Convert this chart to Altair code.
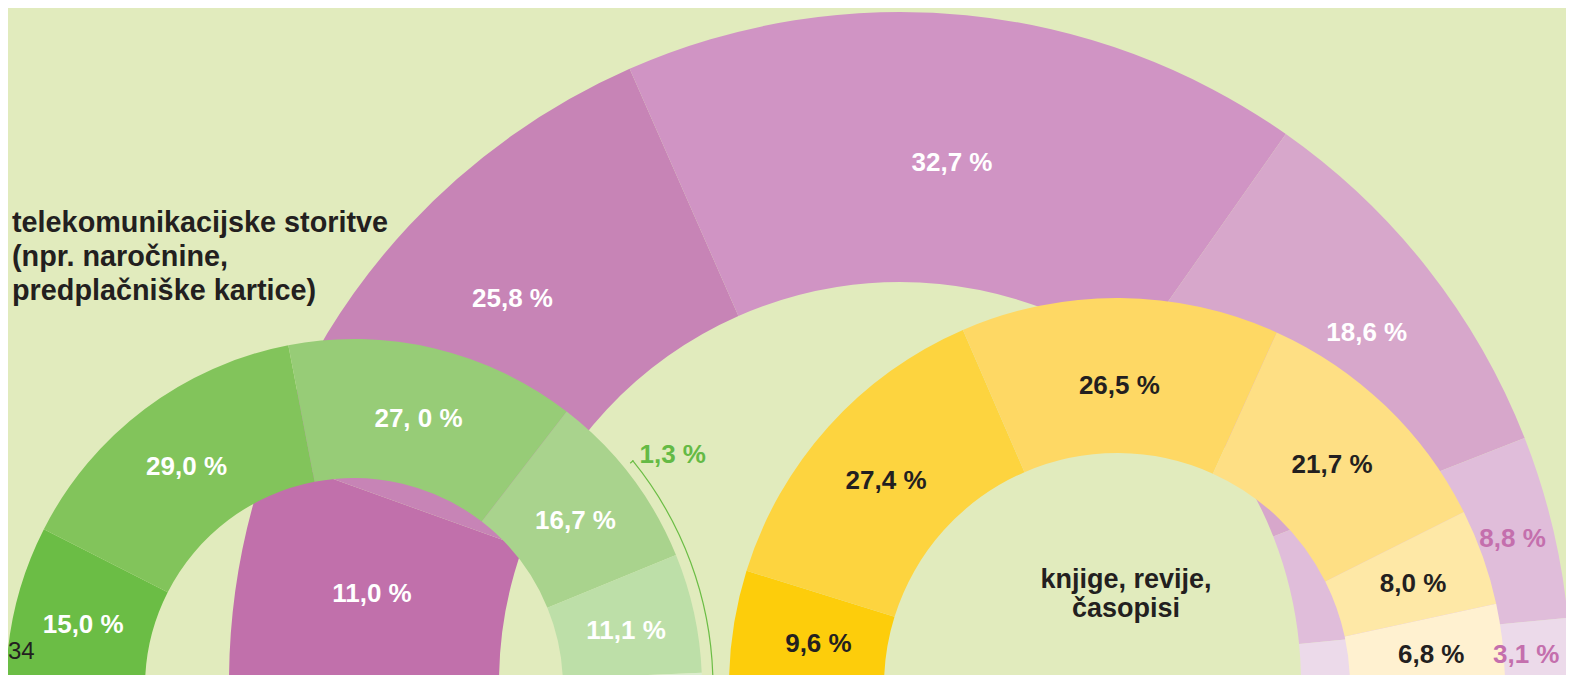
import math
import altair as alt
import pandas as pd

# ---------------- data ----------------
purple_labels = ["11,0 %", "25,8 %", "32,7 %", "18,6 %", "8,8 %", "3,1 %"]
purple_values = [11.0, 25.8, 32.7, 18.6, 8.8, 3.1]

green_labels = ["15,0 %", "29,0 %", "27, 0 %", "16,7 %", "11,1 %", "1,3 %"]
green_values = [15.0, 29.0, 27.0, 16.7, 11.1, 1.3]

yellow_labels = ["9,6 %", "27,4 %", "26,5 %", "21,7 %", "8,0 %", "6,8 %"]
yellow_values = [9.6, 27.4, 26.5, 21.7, 8.0, 6.8]

title_lines = ["telekomunikacijske storitve", "(npr. naročnine,", "predplačniške kartice)"]
center_lines = ["knjige, revije,", "časopisi"]
page_number = "34"

# ---------------- styles ----------------
BG = "#e1ebbd"
DARK = "#231f20"
WHITE = "#ffffff"
purple_colors = ["#c170ab", "#c784b6", "#d094c4", "#d7a7cb", "#e0bdda", "#ecdaea"]
green_colors = ["#6bbd45", "#82c45b", "#97cc77", "#a9d38d", "#bddfa8", "#dcedcf"]
yellow_colors = ["#fdcd0b", "#fdd43f", "#fed864", "#fedf84", "#fee8a6", "#fff1d0"]
purple_text = [WHITE, WHITE, WHITE, WHITE, "#c46fad", "#c46fad"]
green_text = [WHITE] * 6
yellow_text = [DARK] * 6

FONT = "Liberation Sans"
W, H = 1558, 667


def donut(labels, values, colors, text_colors, cx, cy, r_out, r_in,
          radius_override=None, angle_shift=None, skip=()):
    radius_override = radius_override or {}
    angle_shift = angle_shift or {}
    mid = (r_out + r_in) / 2
    df = pd.DataFrame({
        "label": labels,
        "value": values,
        "order": list(range(len(labels))),
        "lr": [radius_override.get(l, mid) for l in labels],
        "shift": [angle_shift.get(l, 0.0) for l in labels],
    })
    total = sum(values)
    tscale = alt.Scale(domain=[0, total], range=[-math.pi / 2, math.pi / 2])
    arcs = alt.Chart(df).mark_arc(radius=r_out, radius2=r_in, clip=True).encode(
        theta=alt.Theta("value:Q", stack=True, scale=tscale),
        order=alt.Order("order:Q"),
        x=alt.value(cx),
        y=alt.value(cy),
        color=alt.Color("label:N", scale=alt.Scale(domain=labels, range=colors),
                        legend=None),
    )
    text = alt.Chart(df).transform_window(
        cum="sum(value)", sort=[alt.SortField("order")], frame=[None, 0]
    ).transform_calculate(
        mid="datum.cum - datum.value / 2 + datum.shift",
        shown="indexof(%s, datum.label) >= 0 ? '' : datum.label" % str(list(skip)),
    ).mark_text(font=FONT, fontSize=26, fontWeight="bold",
                align="center", baseline="middle", dy=3).encode(
        theta=alt.Theta("mid:Q", stack=False, scale=tscale),
        radius=alt.Radius("lr:Q", scale=None),
        x=alt.value(cx),
        y=alt.value(cy),
        text=alt.Text("shown:N"),
        fill=alt.Fill("label:N", scale=alt.Scale(domain=labels, range=text_colors),
                      legend=None),
    )
    return arcs, text


# centres / radii (plot coordinates)
P_CX, P_CY, P_RO, P_RI = 892, 675, 671, 401
G_CX, G_CY, G_RO, G_RI = 346, 679, 348, 209
Y_CX, Y_CY, Y_RO, Y_RI = 1109, 678, 388, 233

p_arcs, p_text = donut(purple_labels, purple_values, purple_colors, purple_text,
                       P_CX, P_CY, P_RO, P_RI,
                       radius_override={"25,8 %": 548, "32,7 %": 526, "18,6 %": 585,
                                        "8,8 %": 630, "3,1 %": 627},
                       angle_shift={"25,8 %": 1.1, "18,6 %": 0.6})
g_arcs, g_text = donut(green_labels, green_values, green_colors, green_text,
                       G_CX, G_CY, G_RO, G_RI, skip=("1,3 %",))
y_arcs, y_text = donut(yellow_labels, yellow_values, yellow_colors, yellow_text,
                       Y_CX, Y_CY, Y_RO, Y_RI,
                       radius_override={"26,5 %": 303, "9,6 %": 302, "6,8 %": 316,
                                        "8,0 %": 314})

one = pd.DataFrame({"k": [0]})
GREEN_LINE = "#6bbd45"

# annotation for the small green slice
small = pd.DataFrame({"label": [green_labels[-1]]})
small_label = alt.Chart(small).mark_text(
    font=FONT, fontSize=26, fontWeight="bold", align="center", baseline="middle",
    color="#64ba45", dy=3
).encode(
    x=alt.value(G_CX), y=alt.value(G_CY),
    theta=alt.value(0.9355), radius=alt.value(396),
    text="label:N",
)

bracket = alt.Chart(one).mark_arc(
    theta=0.888, theta2=1.5455, radius=359.6, radius2=358.4, color=GREEN_LINE
).encode(x=alt.value(G_CX), y=alt.value(G_CY))
tick_bottom = alt.Chart(one).mark_arc(
    theta=1.5425, theta2=1.5455, radius=359.6, radius2=348.5, color=GREEN_LINE
).encode(x=alt.value(G_CX), y=alt.value(G_CY))
tick_top = alt.Chart(one).mark_arc(
    theta=0.888, theta2=0.8915, radius=359.6, radius2=355.5, color=GREEN_LINE
).encode(x=alt.value(G_CX), y=alt.value(G_CY))

title = alt.Chart(one).mark_text(
    font=FONT, fontSize=28.8, fontWeight="bold", align="left",
    baseline="alphabetic", lineHeight=34, color=DARK
).encode(x=alt.value(4), y=alt.value(224), text=alt.value(title_lines))

center = alt.Chart(one).mark_text(
    font=FONT, fontSize=27, fontWeight="bold", align="center",
    baseline="alphabetic", lineHeight=29, color=DARK
).encode(x=alt.value(1118), y=alt.value(580), text=alt.value(center_lines))

pnum = alt.Chart(one).mark_text(
    font=FONT, fontSize=24, align="left", baseline="alphabetic", color=DARK
).encode(x=alt.value(0), y=alt.value(651), text=alt.value(page_number))

chart = alt.layer(
    p_arcs, g_arcs, y_arcs, bracket, tick_bottom, tick_top,
    p_text, g_text, y_text, small_label,
    title, center, pnum
).resolve_scale(
    theta="independent", color="independent", fill="independent"
).properties(
    width=W, height=H, padding=0,
    autosize=alt.AutoSizeParams(type="none"),
    background=BG,
).configure_view(stroke=None, fill=BG)

chart.save("out.html", embed_options={"renderer": "svg", "actions": False})
